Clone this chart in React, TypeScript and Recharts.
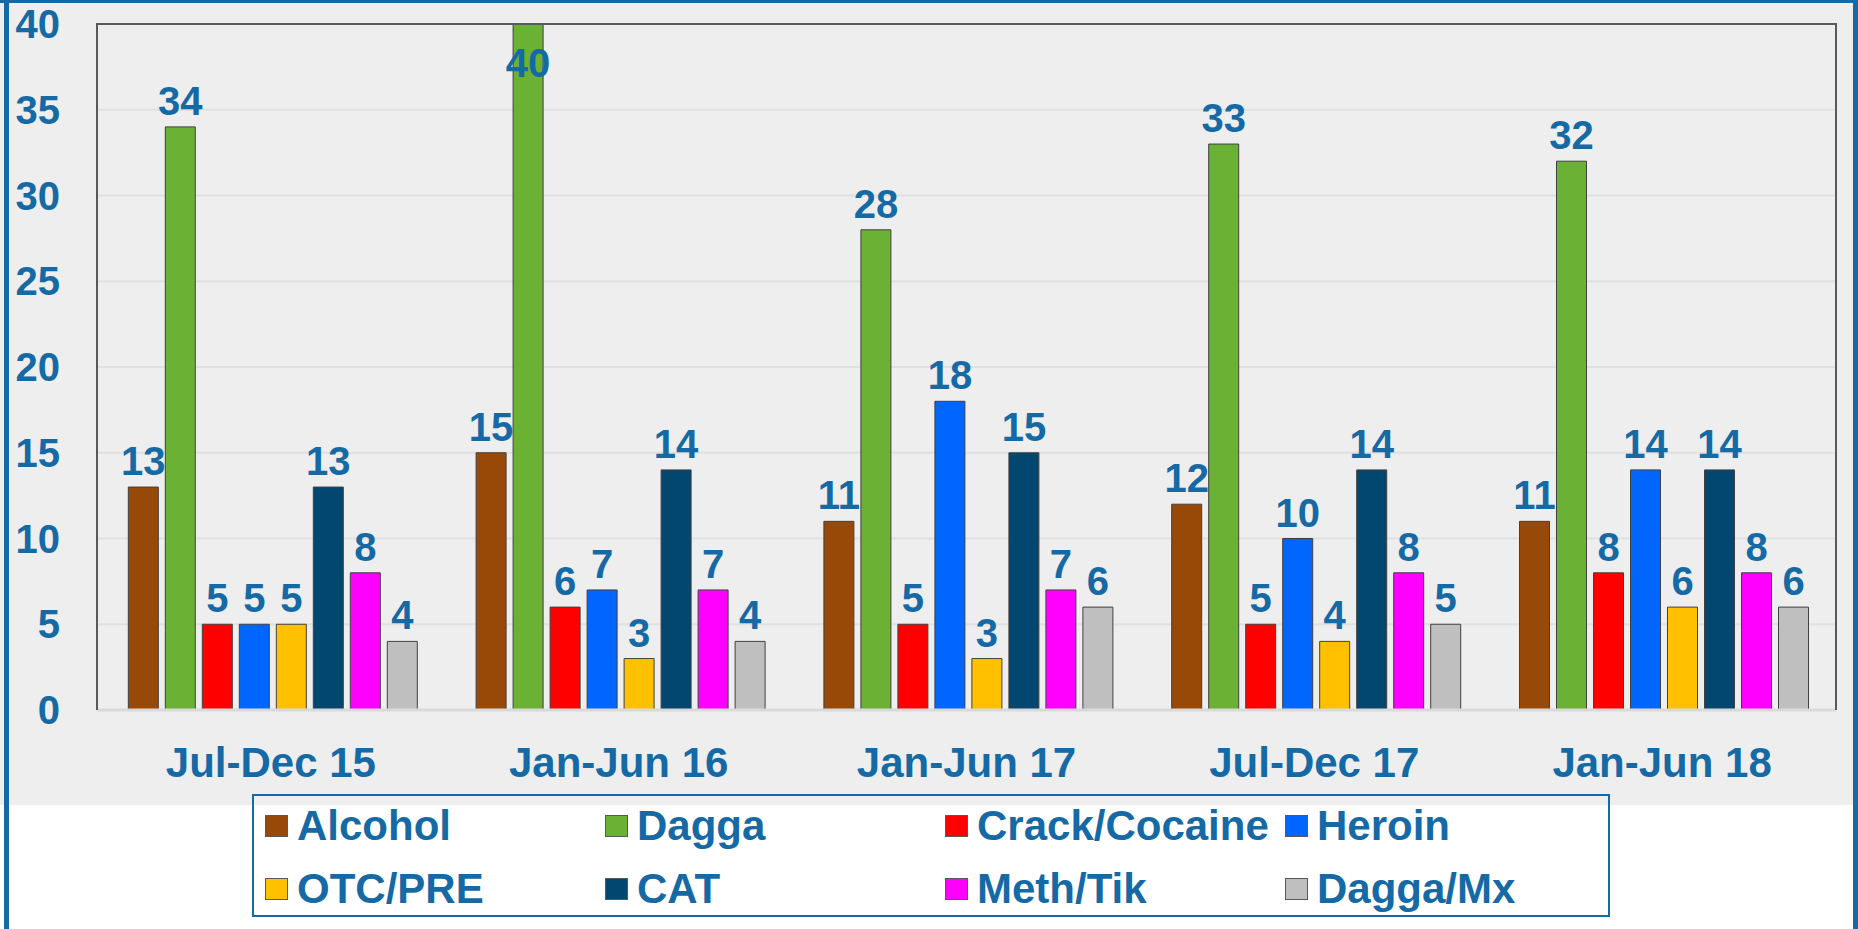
import React from 'react';
import { BarChart, Bar, XAxis, YAxis, CartesianGrid } from 'recharts';

const periods = ['Jul-Dec 15', 'Jan-Jun 16', 'Jan-Jun 17', 'Jul-Dec 17', 'Jan-Jun 18'];

const alcohol = [13, 15, 11, 12, 11];
const dagga = [34, 40, 28, 33, 32];
const crackCocaine = [5, 6, 5, 5, 8];
const heroin = [5, 7, 18, 10, 14];
const otcPre = [5, 3, 3, 4, 6];
const cat = [13, 14, 15, 14, 14];
const methTik = [8, 7, 7, 8, 8];
const daggaMx = [4, 4, 6, 5, 6];

const yTicks = [0, 5, 10, 15, 20, 25, 30, 35, 40];

const series = [
  { key: 'alcohol', name: 'Alcohol', values: alcohol, color: '#984807' },
  { key: 'dagga', name: 'Dagga', values: dagga, color: '#6bb134' },
  { key: 'crack', name: 'Crack/Cocaine', values: crackCocaine, color: '#ff0000' },
  { key: 'heroin', name: 'Heroin', values: heroin, color: '#0066ff' },
  { key: 'otc', name: 'OTC/PRE', values: otcPre, color: '#ffc000' },
  { key: 'cat', name: 'CAT', values: cat, color: '#01476f' },
  { key: 'meth', name: 'Meth/Tik', values: methTik, color: '#ff00ff' },
  { key: 'daggaMx', name: 'Dagga/Mx', values: daggaMx, color: '#bfbfbf' },
];

const data = periods.map((p, i) => {
  const row: Record<string, string | number> = { period: p };
  series.forEach((s) => (row[s.key] = s.values[i]));
  return row;
});

const BLUE = '#156aa6';
const FONT = '"Liberation Sans", Arial, sans-serif';
const W = 1858;
const H = 929;
const M = { top: 24, right: 22, bottom: 119, left: 0 };
const Y_AXIS_W = 97;
const X_AXIS_H = 100;

// labels above the bar, or inside the top when there is no room above
const barLabel = (props: any) => {
  const { x, y, width, value } = props;
  const above = y - 12;
  const ty = above - 30 < M.top ? y + 53 : above;
  return (
    <text x={x + width / 2} y={ty} textAnchor="middle" fill={BLUE}
      fontSize={40} fontWeight="bold" fontFamily={FONT}>
      {value}
    </text>
  );
};

function ChartLegend() {
  return (
    <div style={{
      position: 'absolute', left: 252, top: 794, width: 1358, height: 123,
      border: `2px solid ${BLUE}`, boxSizing: 'border-box',
    }}>
      {series.map((s, i) => (
        <div key={s.key} style={{
          position: 'absolute', left: 11 + (i % 4) * 340, top: 5 + Math.floor(i / 4) * 63,
          height: 50, display: 'flex', alignItems: 'center', whiteSpace: 'nowrap',
        }}>
          <div style={{
            width: 23, height: 22, background: s.color, border: '1px solid #595959',
            boxSizing: 'border-box', marginRight: 9,
          }} />
          <span style={{ fontFamily: FONT, fontWeight: 'bold', fontSize: 42, color: BLUE, lineHeight: 1 }}>
            {s.name}
          </span>
        </div>
      ))}
    </div>
  );
}

export default function App() {
  const plotLeft = M.left + Y_AXIS_W;
  const plotW = W - plotLeft - M.right;
  const plotH = H - M.top - M.bottom - X_AXIS_H;
  return (
    <div style={{ position: 'absolute', left: 0, top: 0, width: W, height: H, background: '#fff', overflow: 'hidden' }}>
      <div style={{ position: 'absolute', left: 0, top: 0, width: W, height: 805, background: '#eeeeee' }} />
      <div style={{ position: 'absolute', left: 0, top: 0, width: W, height: 3, background: BLUE }} />
      <div style={{ position: 'absolute', left: 4, top: 0, width: 5, height: H, background: BLUE }} />
      <div style={{ position: 'absolute', left: 1853, top: 0, width: 5, height: H, background: BLUE }} />
      <div style={{ position: 'absolute', left: 0, top: 0 }}>
        <BarChart width={W} height={H} data={data} margin={M}
          barCategoryGap="9%" barGap={7}>
          <CartesianGrid vertical={false} stroke="#e0e0e0" strokeWidth={2} />
          <XAxis dataKey="period" height={X_AXIS_H} tickSize={0} tickMargin={37}
            axisLine={{ stroke: '#d9d9d9', strokeWidth: 3 }}
            tick={{ fill: BLUE, fontSize: 42, fontWeight: 'bold', fontFamily: FONT }} />
          <YAxis width={Y_AXIS_W} domain={[0, 40]} ticks={yTicks} interval={0} tickSize={0} tickMargin={37}
            axisLine={false}
            tick={{ fill: BLUE, fontSize: 40, fontWeight: 'bold', fontFamily: FONT }} />
          {series.map((s) => (
            <Bar key={s.key} dataKey={s.key} name={s.name} fill={s.color}
              stroke="#404040" strokeWidth={1} isAnimationActive={false} label={barLabel} />
          ))}
        </BarChart>
      </div>
      {/* plot frame: dark on left, top and right */}
      <div style={{
        position: 'absolute', left: plotLeft - 1, top: M.top - 1, width: plotW + 2, height: plotH + 1,
        borderTop: '2px solid #595959', borderLeft: '2px solid #595959', borderRight: '2px solid #595959',
        boxSizing: 'border-box', pointerEvents: 'none',
      }} />
      <ChartLegend />
    </div>
  );
}
